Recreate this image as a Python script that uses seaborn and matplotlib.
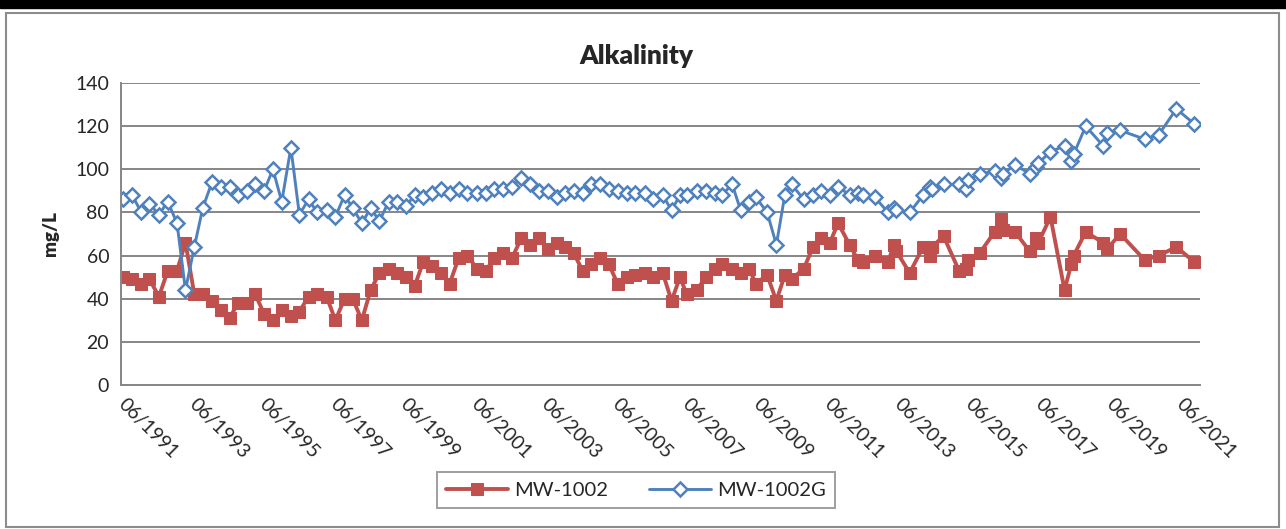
import pandas as pd
import numpy as np
import matplotlib
matplotlib.use("Agg")
import matplotlib.pyplot as plt
import matplotlib.dates as mdates
from matplotlib.patches import Rectangle
import seaborn as sns

# sample dates as decimal years
dec_years = [1991.47, 1991.73, 1991.99, 1992.22, 1992.49, 1992.74, 1993.00, 1993.24, 1993.49, 1993.73,
             1993.99, 1994.24, 1994.49, 1994.73, 1994.98, 1995.22, 1995.47, 1995.72, 1995.97, 1996.23,
             1996.47, 1996.73, 1996.98, 1997.24, 1997.49, 1997.75, 1997.98, 1998.24, 1998.49, 1998.74,
             1999.00, 1999.24, 1999.49, 1999.74, 1999.98, 2000.24, 2000.49, 2000.73, 2000.99, 2001.23,
             2001.50, 2001.76, 2001.99, 2002.25, 2002.50, 2002.76, 2003.01, 2003.26, 2003.51, 2003.76,
             2004.01, 2004.25, 2004.50, 2004.74, 2004.99, 2005.24, 2005.49, 2005.75, 2005.99, 2006.26,
             2006.50, 2006.77, 2007.02, 2007.26, 2007.45, 2007.73, 2008.00, 2008.25, 2008.44, 2008.74,
             2008.98, 2009.21, 2009.41, 2009.73, 2009.99, 2010.23, 2010.42, 2010.77, 2011.03, 2011.27,
             2011.51, 2011.74, 2012.07, 2012.30, 2012.45, 2012.78, 2013.16, 2013.32, 2013.39, 2013.77,
             2014.15, 2014.34, 2014.40, 2014.73, 2015.17, 2015.38, 2015.43, 2015.75, 2016.18, 2016.37,
             2016.41, 2016.76, 2017.17, 2017.35, 2017.42, 2017.76, 2018.16, 2018.35, 2018.42, 2018.76,
             2019.25, 2019.36, 2019.74, 2020.43, 2020.83, 2021.33, 2021.84]

mw1002 = [50, 49, 47, 49, 41, 53, 53, 66, 42, 42,
          39, 35, 31, 38, 38, 42, 33, 30, 35, 32,
          34, 41, 42, 41, 30, 40, 40, 30, 44, 52,
          54, 52, 50, 46, 57, 55, 52, 47, 59, 60,
          54, 53, 59, 61, 59, 68, 65, 68, 63, 66,
          64, 61, 53, 56, 59, 56, 47, 50, 51, 52,
          50, 52, 39, 50, 42, 44, 50, 54, 56, 54,
          52, 54, 47, 51, 39, 51, 49, 54, 64, 68,
          66, 75, 65, 58, 57, 60, 57, 65, 62, 52,
          64, 60, 64, 69, 53, 54, 58, 61, 71, 77,
          72, 71, 62, 68, 66, 78, 44, 56, 60, 71,
          66, 63, 70, 58, 60, 64, 57]

mw1002g = [86, 88, 80, 84, 79, 85, 75, 44, 64, 82,
           94, 92, 92, 88, 90, 93, 90, 100, 85, 110,
           79, 86, 80, 81, 78, 88, 82, 75, 82, 76,
           85, 85, 83, 88, 87, 89, 91, 89, 91, 89,
           89, 89, 91, 91, 92, 96, 93, 90, 90, 87,
           89, 90, 89, 93, 93, 91, 90, 89, 89, 89,
           86, 88, 81, 88, 88, 90, 90, 89, 88, 93,
           81, 85, 87, 80, 65, 88, 93, 86, 88, 90,
           88, 92, 88, 89, 88, 87, 80, 82, 81, 80,
           88, 92, 91, 93, 93, 91, 95, 98, 99, 96,
           98, 102, 98, 101, 103, 108, 111, 104, 107, 120,
           111, 117, 118, 114, 116, 128, 121]

tick_labels = ["06/1991", "06/1993", "06/1995", "06/1997", "06/1999", "06/2001", "06/2003", "06/2005",
               "06/2007", "06/2009", "06/2011", "06/2013", "06/2015", "06/2017", "06/2019", "06/2021"]


def to_date(y):
    yr = int(y)
    return pd.Timestamp(yr, 1, 1) + pd.Timedelta(days=(y - yr) * 365.25)


df = pd.DataFrame({"date": [to_date(y) for y in dec_years],
                   "MW-1002": mw1002, "MW-1002G": mw1002g})

sns.set_style("white")
plt.rcParams["font.family"] = ["Lato", "DejaVu Sans"]

red = "#C0504D"
blue = "#4F81BD"
grid = "#868686"

fig = plt.figure(figsize=(12.86, 5.29), dpi=100)
ax = fig.add_axes([121 / 1286, 1 - 385 / 529, 1079 / 1286, 302 / 529])

sns.lineplot(data=df, x="date", y="MW-1002", ax=ax, color=red, lw=2.8, marker="s",
             markersize=8, markeredgecolor=red, label="MW-1002", estimator=None)
sns.lineplot(data=df, x="date", y="MW-1002G", ax=ax, color=blue, lw=2.1, marker="D",
             markersize=7, markerfacecolor="white", markeredgecolor=blue,
             markeredgewidth=1.8, label="MW-1002G", estimator=None)

ax.set_ylim(0, 140)
ax.set_yticks(range(0, 141, 20))
ax.set_xlim(pd.Timestamp("1991-06-01"), pd.Timestamp("2022-01-01"))
ax.set_xticks(pd.to_datetime(tick_labels, format="%m/%Y"))
ax.xaxis.set_major_formatter(mdates.DateFormatter("%m/%Y"))
ax.yaxis.grid(True, color=grid, lw=1.4)
ax.xaxis.grid(False)
for s in ["top", "right"]:
    ax.spines[s].set_visible(False)
for s in ["left", "bottom"]:
    ax.spines[s].set_color(grid)
    ax.spines[s].set_linewidth(1.4)
ax.tick_params(axis="both", direction="out", length=5, color=grid, width=1.2, labelsize=14)
for lab in ax.get_xticklabels():
    lab.set_rotation(-45)
    lab.set_ha("left")
    lab.set_va("center")
    lab.set_rotation_mode("anchor")
ax.tick_params(axis="x", pad=7)
ax.set_xlabel("")
ax.set_ylabel("mg/L", fontsize=13.5, fontweight="heavy", labelpad=12)

fig.text(0.4945, 1 - 56 / 529, "Alkalinity", ha="center", va="center", fontsize=19, fontweight="heavy")

leg = ax.legend(loc="center", bbox_to_anchor=((636 - 121) / 1079, (385 - 490) / 302), ncol=2,
                frameon=True, fancybox=False, edgecolor=grid, fontsize=14.5, handlelength=3.1,
                columnspacing=2.0, borderpad=0.45, handletextpad=0.3, borderaxespad=0)
leg.get_frame().set_linewidth(1.4)

# outer chart frame
fig.patches.append(Rectangle((0, 1 - 8 / 529), 1, 8 / 529, transform=fig.transFigure, color="black"))
fig.patches.append(Rectangle((6 / 1286, 2 / 529), 1273 / 1286, 1 - 15 / 529, transform=fig.transFigure,
                             fill=False, edgecolor="#8c8c8c", lw=1.5))

fig.savefig("out.png", dpi=100)
